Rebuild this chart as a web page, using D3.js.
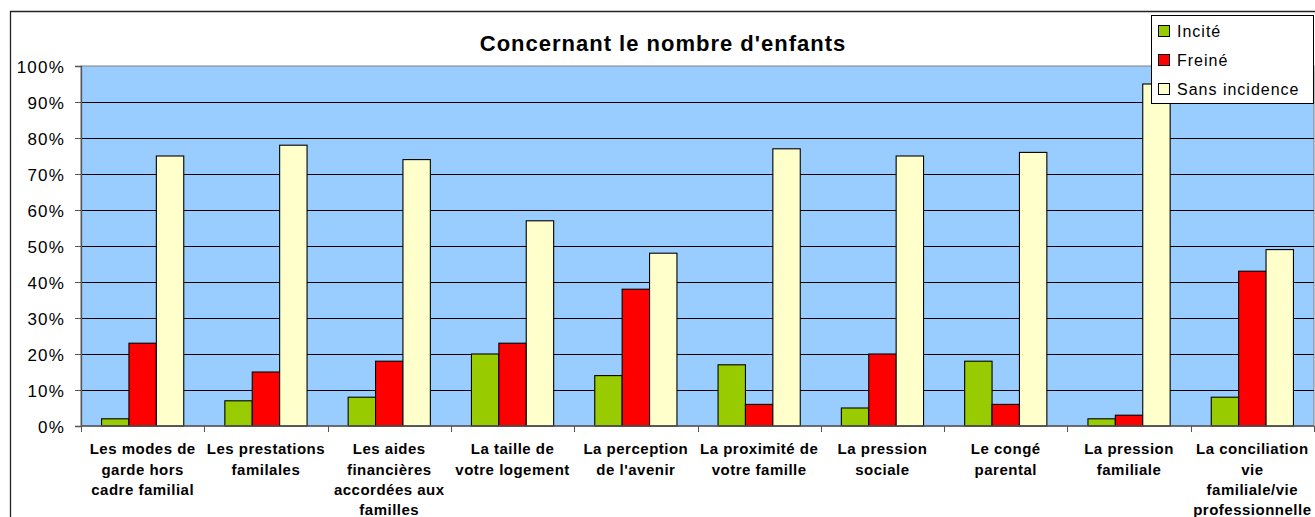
<!DOCTYPE html>
<html>
<head>
<meta charset="utf-8">
<script src="https://cdn.jsdelivr.net/npm/d3@7"></script>
<style>
  body { margin: 0; background: #fff; }
  svg text { font-family: "Liberation Sans", Arial, sans-serif; fill: #000; }
</style>
</head>
<body>
<svg width="1315" height="517"></svg>
<script>
// categories (line breaks as in the original labels)
var categories = [
    "Les modes de\ngarde hors\ncadre familial",
    "Les prestations\nfamilales",
    "Les aides\nfinancières\naccordées aux\nfamilles",
    "La taille de\nvotre logement",
    "La perception\nde l'avenir",
    "La proximité de\nvotre famille",
    "La pression\nsociale",
    "Le congé\nparental",
    "La pression\nfamiliale",
    "La conciliation\nvie\nfamiliale/vie\nprofessionnelle"
];
var seriesNames = ["Incité", "Freiné", "Sans incidence"];
var seriesColors = ["#99CC00", "#FF0000", "#FFFFCC"];

// values in %
var incite = [2, 7, 8, 20, 14, 17, 5, 18, 2, 8];
var freine = [23, 15, 18, 23, 38, 6, 20, 6, 3, 43];
var sansIncidence = [75, 78, 74, 57, 48, 77, 75, 76, 95, 49];

var yTicks = [0, 10, 20, 30, 40, 50, 60, 70, 80, 90, 100];
var chartTitle = "Concernant le nombre d'enfants";

var svg = d3.select('svg');
var plot = {l: 81, r: 1314, t: 66, b: 426};

var seriesValues = [incite, freine, sansIncidence];
var table = categories.map(function(c, i) {
    return {cat: c, vals: seriesValues.map(function(s) { return s[i]; })};
});

var xScale = d3.scaleBand().domain(categories).range([plot.l, plot.r]).padding(0);
var subScale = d3.scaleBand().domain(d3.range(3))
    .range([0, xScale.bandwidth()]).paddingInner(0).paddingOuter(0.75);
var yScale = d3.scaleLinear().domain([0, 100]).range([plot.b, plot.t]);

// outer chart frame (runs off the right and bottom edges)
svg.append('path')
    .attr('d', 'M10.5,' + 1330 + 'V11.5H1330')
    .attr('fill', 'none')
    .attr('stroke', '#222')
    .attr('stroke-width', 1.3);

// plot background
svg.append('rect')
    .attr('x', plot.l).attr('y', plot.t)
    .attr('width', plot.r - plot.l).attr('height', plot.b - plot.t)
    .attr('fill', '#99CCFF')
    .attr('stroke', '#808080')
    .attr('stroke-width', 1);

// gridlines
svg.append('g').selectAll('line')
    .data(yTicks.filter(function(d) { return d > 0 && d < 100; }))
    .enter().append('line')
    .attr('x1', plot.l).attr('x2', plot.r)
    .attr('y1', function(d) { return Math.round(yScale(d)) + 0.5; })
    .attr('y2', function(d) { return Math.round(yScale(d)) + 0.5; })
    .attr('stroke', '#000')
    .attr('stroke-width', 1);

// bars
var groups = svg.append('g').selectAll('g')
    .data(table)
    .enter().append('g')
    .attr('transform', function(d) { return 'translate(' + xScale(d.cat) + ',0)'; });

groups.selectAll('rect')
    .data(function(d) { return d.vals; })
    .enter().append('rect')
    .attr('x', function(d, i) { return subScale(i); })
    .attr('y', function(d) { return yScale(d); })
    .attr('width', subScale.bandwidth())
    .attr('height', function(d) { return plot.b - yScale(d); })
    .attr('fill', function(d, i) { return seriesColors[i]; })
    .attr('stroke', '#000')
    .attr('stroke-width', 1.1);

// y axis
var yAxis = d3.axisLeft(yScale)
    .tickValues(yTicks)
    .tickSize(6)
    .tickPadding(10)
    .tickFormat(function(d) { return d + '%'; });

var yG = svg.append('g')
    .attr('transform', 'translate(' + plot.l + ',0)')
    .call(yAxis);
yG.select('.domain').attr('stroke', '#555').attr('stroke-width', 1.3);
yG.selectAll('.tick line').attr('stroke', '#555');
yG.selectAll('.tick text')
    .attr('font-size', 17)
    .attr('letter-spacing', 1.2)
    .attr('dy', '0.36em')
    .attr('font-family', '"Liberation Sans", Arial, sans-serif');

// x axis: baseline and ticks between categories
svg.append('line')
    .attr('x1', plot.l).attr('x2', plot.r)
    .attr('y1', plot.b).attr('y2', plot.b)
    .attr('stroke', '#555').attr('stroke-width', 1.5);

svg.append('g').selectAll('line')
    .data(categories.concat(['end']))
    .enter().append('line')
    .attr('x1', function(d, i) { return Math.round(plot.l + i * xScale.step()) + 0.5; })
    .attr('x2', function(d, i) { return Math.round(plot.l + i * xScale.step()) + 0.5; })
    .attr('y1', plot.b).attr('y2', plot.b + 6)
    .attr('stroke', '#555');

// category labels
var labels = svg.append('g').selectAll('text')
    .data(categories)
    .enter().append('text')
    .attr('text-anchor', 'middle')
    .attr('font-size', 15)
    .attr('font-weight', 'bold')
    .attr('letter-spacing', 0.5)
    .attr('transform', function(d) {
        return 'translate(' + (xScale(d) + xScale.bandwidth() / 2) + ',' + 449 + ')';
    });

labels.selectAll('tspan')
    .data(function(d) { return d.split('\n'); })
    .enter().append('tspan')
    .attr('x', 0)
    .attr('y', function(d, i) { return i * 20.3; })
    .attr('dy', '0.36em')
    .text(function(d) { return d; });

// title
svg.append('text')
    .attr('x', 663)
    .attr('y', 43)
    .attr('text-anchor', 'middle')
    .attr('dy', '0.36em')
    .attr('font-size', 22)
    .attr('font-weight', 'bold')
    .attr('letter-spacing', 1)
    .text(chartTitle);

// legend
var legend = svg.append('g');
legend.append('rect')
    .attr('x', 1151.5).attr('y', 15.5)
    .attr('width', 162).attr('height', 88)
    .attr('fill', '#fff')
    .attr('stroke', '#000')
    .attr('stroke-width', 1);

var items = legend.selectAll('g.item')
    .data(seriesNames)
    .enter().append('g')
    .attr('class', 'item')
    .attr('transform', function(d, i) { return 'translate(1158,' + (31 + i * 29) + ')'; });

items.append('rect')
    .attr('x', 0.5).attr('y', -5.5)
    .attr('width', 11).attr('height', 11)
    .attr('fill', function(d, i) { return seriesColors[i]; })
    .attr('stroke', '#000');

items.append('text')
    .attr('x', 19)
    .attr('dy', '0.36em')
    .attr('font-size', 16)
    .attr('letter-spacing', 1)
    .text(function(d) { return d; });
</script>
</body>
</html>
